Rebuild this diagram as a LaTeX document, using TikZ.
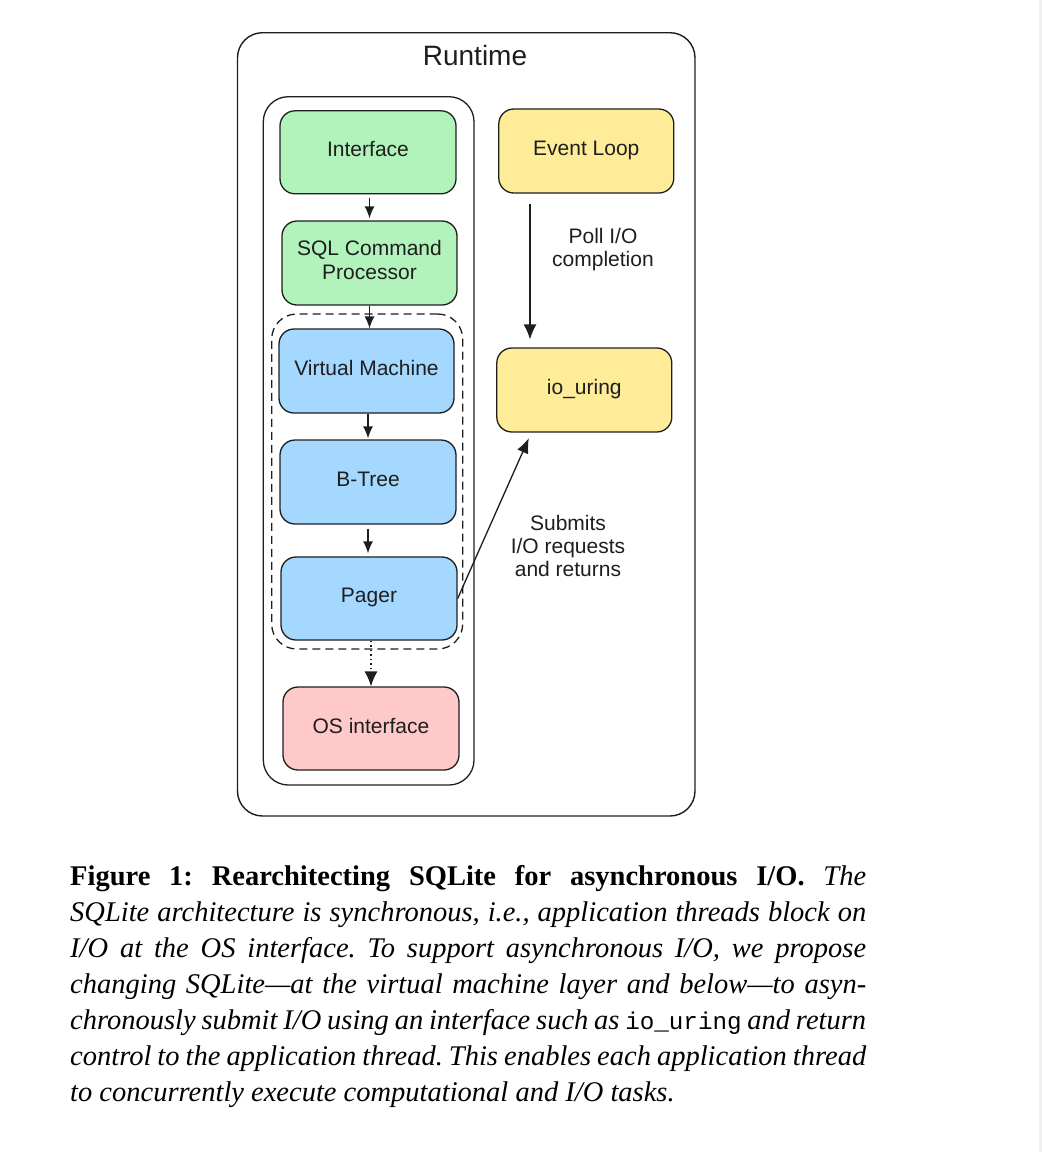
\documentclass[tikz,border=0pt]{standalone}
\usepackage{xcolor}
\usepackage{tikz}
\usetikzlibrary{arrows.meta}
\usepackage{fontspec}
\setmainfont{Liberation Serif}
\setmonofont{Liberation Mono}[Scale=0.85]
\newfontfamily\diagfont{Liberation Sans}
\definecolor{boxgreen}{HTML}{B2F2BB}
\definecolor{boxblue}{HTML}{A5D8FF}
\definecolor{boxyellow}{HTML}{FFEC99}
\definecolor{boxred}{HTML}{FFC9C9}
\definecolor{ink}{HTML}{1E1E1E}
\frenchspacing

\begin{document}
\begin{tikzpicture}[x=1pt, y=-1pt,
    layer/.style={draw=ink, line width=1.3pt, rounded corners=15pt, minimum width=176pt, minimum height=83pt, inner sep=0pt, text=ink, text depth=6pt, font=\diagfont\fontsize{21}{24}\selectfont, align=center},
    group/.style={draw=ink, line width=1.3pt, rounded corners=25pt, inner sep=0pt},
    arr/.style={-{Latex[length=12pt, width=10pt]}, draw=ink, line width=1.3pt},
    bigarr/.style={-{Latex[length=15pt, width=13pt]}, draw=ink, line width=1.3pt},
    note/.style={text=ink, font=\diagfont\fontsize{21}{23}\selectfont, align=center},
    capline/.style={anchor=base west, inner sep=0pt, font=\fontsize{28.5}{36}\selectfont}]

    \useasboundingbox (0,0) rectangle (1042,1152);
    \fill[black!6] (1039,0) rectangle (1042,1152);

    \node[group, line width=1.4pt, minimum width=457.5pt, minimum height=783.3pt] (runtime) at (466.25,424.35) {};
    \node[text=ink, font=\diagfont\fontsize{28}{30}\selectfont] (rtlabel) at (475,55) {Runtime};

    \node[group, minimum width=210.7pt, minimum height=688.3pt] (sqlite) at (368.65,440.85) {};
    \node[group, dash pattern=on 8pt off 5pt, minimum width=191pt, minimum height=335pt] (async) at (367.2,481.5) {};

    \node[layer, fill=boxgreen] (iface) at (368,152.3) {Interface};
    \node[layer, fill=boxgreen, minimum width=175pt, minimum height=84pt] (sql) at (369.5,263) {SQL Command\\Processor};
    \node[layer, fill=boxblue, minimum width=175pt, minimum height=84pt] (vm) at (366.5,371) {Virtual Machine};
    \node[layer, fill=boxblue, minimum height=84pt] (btree) at (368,482) {B-Tree};
    \node[layer, fill=boxblue] (pager) at (369,598.5) {Pager};
    \node[layer, fill=boxred] (os) at (371,728.5) {OS interface};

    \node[layer, fill=boxyellow, minimum width=175pt, minimum height=84pt] (evloop) at (586.3,151) {Event Loop};
    \node[layer, fill=boxyellow, minimum width=175pt, minimum height=84pt] (iouring) at (584.3,390) {io\_uring};

    \draw[arr, shorten <=4pt, shorten >=2pt] (iface.south -| sql) -- (sql.north);
    \draw[arr] (sql.south) -- (sql.south |- vm.north);
    \draw[arr, shorten >=1pt] (vm.south -| btree) -- (btree.north);
    \draw[arr, shorten <=4pt, shorten >=3pt] (btree.south) -- (btree.south |- pager.north);
    \draw[bigarr, dash pattern=on 1.5pt off 3pt] (pager.south -| os) -- (os.north);

    \coordinate (pollx) at (530,0);
    \draw[bigarr, shorten <=10pt, shorten >=8pt] (evloop.south -| pollx) -- (iouring.north -| pollx);
    \node[note] (poll) at (603,249.5) {Poll I/O\\completion};

    \draw[-{Latex[length=15pt, width=12pt]}, draw=ink, line width=1.3pt, shorten >=6pt] (pager.east) -- ([xshift=-53pt]iouring.south);
    \node[note] (submit) at (568,545.5) {Submits\\I/O requests\\and returns};

    \node[capline] (cap1) at (70,885) {\makebox[796pt][s]{\textbf{Figure 1: Rearchitecting SQLite for asynchronous I/O.} \textit{The}}};
    \node[capline] (cap2) at (70,921) {\makebox[796pt][s]{\itshape SQLite architecture is synchronous, i.e., application threads block on}};
    \node[capline] (cap3) at (70,957) {\makebox[796pt][s]{\itshape I/O at the OS interface. To support asynchronous I/O, we propose}};
    \node[capline] (cap4) at (70,993) {\makebox[796pt][s]{\itshape changing SQLite---at the virtual machine layer and below---to asyn-}};
    \node[capline] (cap5) at (70,1029) {\makebox[796pt][s]{\itshape chronously submit I/O using an interface such as \texttt{\upshape io\_uring} and return}};
    \node[capline] (cap6) at (70,1065) {\makebox[796pt][s]{\itshape control to the application thread. This enables each application thread}};
    \node[capline] (cap7) at (70,1101) {\itshape to concurrently execute computational and I/O tasks.};
\end{tikzpicture}
\end{document}
